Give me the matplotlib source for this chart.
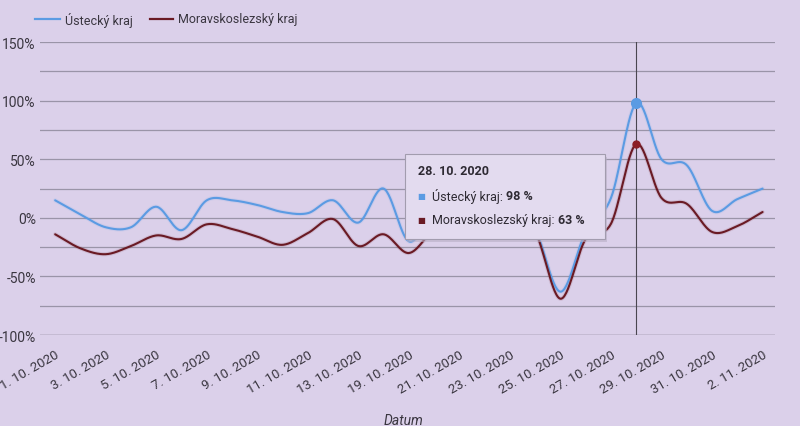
import numpy as np
import matplotlib
matplotlib.use("Agg")
import matplotlib.pyplot as plt
from matplotlib.lines import Line2D
from matplotlib.patches import Rectangle

# ---------------- data ----------------
dates = ["1. 10. 2020", "2. 10. 2020", "3. 10. 2020", "4. 10. 2020", "5. 10. 2020",
         "6. 10. 2020", "7. 10. 2020", "8. 10. 2020", "9. 10. 2020", "10. 10. 2020",
         "11. 10. 2020", "12. 10. 2020", "13. 10. 2020", "14. 10. 2020", "19. 10. 2020",
         "20. 10. 2020", "21. 10. 2020", "22. 10. 2020", "23. 10. 2020", "24. 10. 2020",
         "25. 10. 2020", "26. 10. 2020", "27. 10. 2020", "28. 10. 2020", "29. 10. 2020",
         "30. 10. 2020", "31. 10. 2020", "1. 11. 2020", "2. 11. 2020"]
usti = [15, 3, -8, -8, 9.5, -10.5, 15, 15, 11, 5, 4, 15, -4, 25, -20,
        5, 10, 5, 12, -10, -63, -12, 17, 98, 50, 45, 6, 16, 25]
msk = [-14, -26, -31, -24, -15, -18, -5.5, -9.5, -16, -23, -13, -1, -24, -14, -30,
       -10, 0, -5, 3, -12, -69, -18, -5, 63, 17, 12, -12, -7, 5]
series_names = ["Ústecký kraj", "Moravskoslezský kraj"]
y_ticks = [-100, -50, 0, 50, 100, 150]
y_grid = [-100, -75, -50, -25, 0, 25, 50, 75, 100, 125, 150]
selected = "28. 10. 2020"
x_title = "Datum"

# ---------------- style ----------------
BG = "#dbd0ea"
BLUE = "#5b9be3"
RED = "#6a1a24"
GRID = "#9a94a8"
TXT = "#3a3640"
FONT = "Roboto"

plt.rcParams["font.family"] = [FONT, "DejaVu Sans"]


def smooth(y, n=30):
    y = np.asarray(y, float)
    p = np.concatenate([[2 * y[0] - y[1]], y, [2 * y[-1] - y[-2]]])
    xs, ys = [], []
    t = np.linspace(0, 1, n, endpoint=False)
    for i in range(len(y) - 1):
        p0, p1, p2, p3 = p[i], p[i + 1], p[i + 2], p[i + 3]
        seg = 0.5 * (2 * p1 + (-p0 + p2) * t + (2 * p0 - 5 * p1 + 4 * p2 - p3) * t ** 2
                     + (-p0 + 3 * p1 - 3 * p2 + p3) * t ** 3)
        xs.append(i + t)
        ys.append(seg)
    xs.append([len(y) - 1])
    ys.append([y[-1]])
    return np.concatenate(xs), np.concatenate(ys)


fig = plt.figure(figsize=(8, 4.27), dpi=100, facecolor=BG)
ax = fig.add_axes([0.05, 0.213, 0.919, 0.686])
ax.set_facecolor(BG)

x = np.arange(len(dates))
ax.set_xlim(-0.6, 28.5)
ax.set_ylim(-100, 150)

for g in y_grid:
    ax.axhline(g, color="#6e6878" if g == -100 else GRID, lw=1.0 if g == -100 else 0.9, zorder=1)

for vals, col, lw in [(usti, BLUE, 1.5), (msk, RED, 1.5)]:
    sx, sy = smooth(vals)
    ax.plot(sx, sy, color=col, lw=lw + 1.5, alpha=0.12, solid_capstyle="round", zorder=2)
    ax.plot(sx, sy, color=col, lw=lw, solid_capstyle="round", zorder=3)

sel = dates.index(selected)
ax.axvline(sel, color="#4a4650", lw=0.8, zorder=4)
ax.plot([sel], [usti[sel]], "o", ms=7, color=BLUE, mec=BLUE, zorder=5)
ax.plot([sel], [msk[sel]], "o", ms=5, color="#8b1d26", zorder=5)

for s in ax.spines.values():
    s.set_visible(False)
ax.tick_params(length=0)
ax.set_yticks(y_ticks)
ax.set_yticklabels([f"{v}%" for v in y_ticks], fontsize=10, color=TXT)
ax.tick_params(axis="y", pad=3)
ax.set_xticks(x[::2])
ax.set_xticklabels(dates[::2], rotation=30, ha="right", va="top", rotation_mode="anchor",
                   fontsize=9.5, color=TXT)
ax.tick_params(axis="x", pad=9)
ax.set_xlabel(x_title, fontsize=10, style="italic", color=TXT, labelpad=2)
ax.xaxis.set_label_coords(0.495, -0.265)

# ---------------- legend ----------------
def px(xp, yp):
    return xp / 800, 1 - yp / 427

for (x0, x1, tx), col, name in [((35, 60, 65), BLUE, series_names[0]),
                                ((150, 173, 178), RED, series_names[1])]:
    a, b = px(x0, 20)
    c, _ = px(x1, 20)
    fig.add_artist(Line2D([a, c], [b, b], color=col, lw=1.6, transform=fig.transFigure))
    tx_, ty_ = px(tx, 20)
    fig.text(tx_, ty_, name, fontsize=9, color=TXT, va="center", ha="left")

# ---------------- tooltip ----------------
bx0, by0 = px(405, 240)
bx1, by1 = px(605, 155)
sx0, sy0 = px(407, 243)
fig.add_artist(Rectangle((sx0, sy0), bx1 - bx0, by1 - by0, transform=fig.transFigure,
                         facecolor="#b8b0c6", edgecolor="none", alpha=0.6, zorder=9))
fig.add_artist(Rectangle((bx0, by0), bx1 - bx0, by1 - by0, transform=fig.transFigure,
                         facecolor="#e3dbef", edgecolor="#a29cae", lw=0.8, zorder=10))

tx, ty = px(418, 172)
fig.text(tx, ty, selected, fontsize=9, fontweight="bold", color="#2e2a33",
         va="center", ha="left", zorder=11)

fig.canvas.draw()
renderer = fig.canvas.get_renderer()
for yp, col, name, val in [(197, BLUE, series_names[0], usti[sel]),
                           (221, RED, series_names[1], msk[sel])]:
    mx, my = px(421, yp)
    fig.text(mx, my, "■", fontsize=6, color=col, va="center", ha="center", zorder=11,
             family=["DejaVu Sans"])
    lx, ly = px(432, yp)
    t1 = fig.text(lx, ly, f"{name}: ", fontsize=9, color="#2e2a33", va="center",
                  ha="left", zorder=11)
    bb = t1.get_window_extent(renderer)
    fig.text(bb.x1 / 800, ly, f"{val:g} %", fontsize=9, fontweight="bold",
             color="#2e2a33", va="center", ha="left", zorder=11)

fig.savefig("out.png", dpi=100, facecolor=BG)
